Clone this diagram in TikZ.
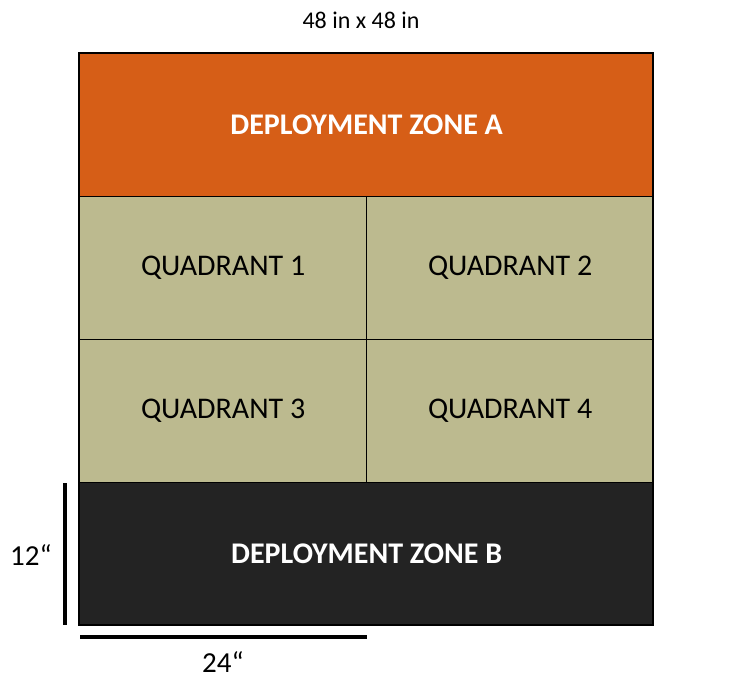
\documentclass[tikz,border=0pt]{standalone}
\usepackage{fontspec}
\setmainfont{Carlito}
\definecolor{zoneA}{HTML}{D65E17}
\definecolor{quad}{HTML}{BCBA8F}
\definecolor{zoneB}{HTML}{232323}
\begin{document}
\begin{tikzpicture}[x=1pt,y=-1pt,
  area/.style={draw=black,line width=1.3pt,minimum width=287pt,minimum height=143pt,inner sep=0pt,anchor=north west},
  zonelabel/.style={text=white,font=\fontsize{30}{34}\selectfont\bfseries},
  quadlabel/.style={text=black,font=\fontsize{30}{34}\selectfont},
  bar/.style={line width=4pt},
  dimlabel/.style={font=\fontsize{29}{34}\selectfont}]
\useasboundingbox (0,0) rectangle (731,681);
\node[area,fill=zoneA,minimum width=574pt] (za) at (79,53) {};
\node[zonelabel] at (za.center) {DEPLOYMENT ZONE A};
\node[area,fill=quad] (q1) at (79,196) {};
\node[area,fill=quad] (q2) at (366,196) {};
\node[area,fill=quad] (q3) at (79,339) {};
\node[area,fill=quad] (q4) at (366,339) {};
\node[quadlabel] at (q1.center) {QUADRANT 1};
\node[quadlabel] at (q2.center) {QUADRANT 2};
\node[quadlabel] at (q3.center) {QUADRANT 3};
\node[quadlabel] at (q4.center) {QUADRANT 4};
\node[area,fill=zoneB,minimum width=574pt] (zb) at (79,482) {};
\node[zonelabel] at (zb.center) {DEPLOYMENT ZONE B};
\draw[line width=1.8pt] (79,53) rectangle (653,625);
\coordinate (v1) at (64.5,483);
\coordinate (v2) at (64.5,625);
\draw[bar] (v1) -- (v2);
\coordinate (h1) at (80,637);
\coordinate (h2) at (367,637);
\draw[bar] (h1) -- (h2);
\node[font=\fontsize{24}{28}\selectfont] (title) at (361,20) {48 in x 48 in};
\node[dimlabel] (l12) at (31,555) {12“};
\node[dimlabel] (l24) at (223,662) {24“};
\end{tikzpicture}
\end{document}
